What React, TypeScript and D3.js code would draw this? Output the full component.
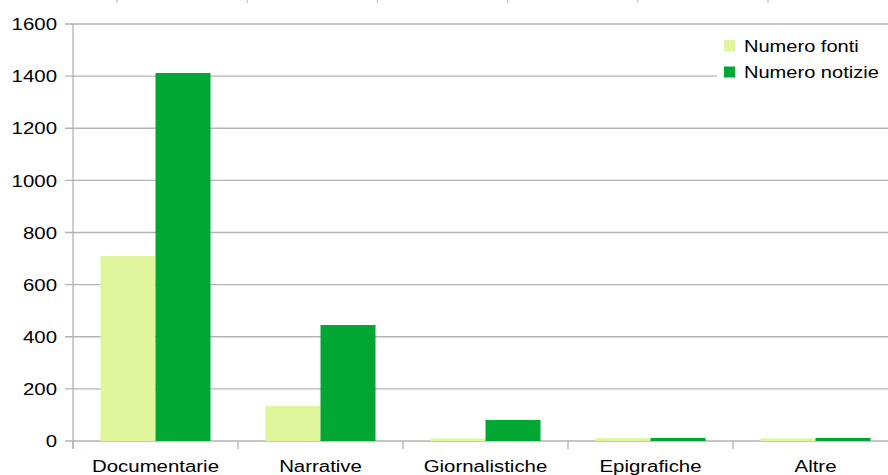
import React from "react";
import * as d3 from "d3";

const categories = ["Documentarie", "Narrative", "Giornalistiche", "Epigrafiche", "Altre"];
const seriesNames = ["Numero fonti", "Numero notizie"];
const numeroFonti = [710, 134, 10, 11, 10];
const numeroNotizie = [1412, 445, 81, 12, 12];
const yTicks = [0, 200, 400, 600, 800, 1000, 1200, 1400, 1600];
const colors = ["#dff69c", "#00a833"];

const W = 888;
const H = 475;
const FONT = "'Liberation Sans', Arial, sans-serif";
const SX = 1.18;

export default function App() {
  const left = 73;
  const x0 = d3
    .scaleBand<string>()
    .domain(categories)
    .range([left, left + 165 * categories.length])
    .paddingInner(1 / 3)
    .paddingOuter(1 / 6);
  const step = x0.step();
  const x1 = d3.scaleBand<string>().domain(seriesNames).range([0, x0.bandwidth()]);
  const y = d3.scaleLinear().domain([0, 1600]).range([441, 24]);
  const series = [numeroFonti, numeroNotizie];
  const grid = "#b3b3b3";
  const topMarks = d3.range(6).map((i) => 117 + i * 130.2);

  return (
    <svg
      width={W}
      height={H}
      style={{ position: "absolute", left: 0, top: 0, background: "#fff" }}
      fontFamily={FONT}
    >
      <rect x={0} y={0} width={W} height={H} fill="#fff" />
      {topMarks.map((mx, i) => (
        <line key={"tm" + i} x1={mx} x2={mx} y1={0} y2={3} stroke={grid} strokeWidth={1} />
      ))}
      {yTicks.map((t) => (
        <g key={"g" + t}>
          <line x1={65} x2={W} y1={y(t)} y2={y(t)} stroke={grid} strokeWidth={1.3} />
          <text
            transform={`translate(57,${y(t) + 6.2}) scale(${SX},1)`}
            textAnchor="end"
            fontSize={17.3}
            fill="#000"
          >
            {t}
          </text>
        </g>
      ))}
      <line x1={left} x2={left} y1={y(1600)} y2={449} stroke={grid} strokeWidth={1.3} />
      {d3.range(categories.length + 1).map((i) => (
        <line
          key={"ct" + i}
          x1={left + i * step}
          x2={left + i * step}
          y1={441}
          y2={449}
          stroke={grid}
          strokeWidth={1.3}
        />
      ))}
      {categories.map((c, ci) =>
        series.map((vals, si) => {
          const bx = (x0(c) as number) + (x1(seriesNames[si]) as number);
          return (
            <rect
              key={c + si}
              x={bx}
              y={y(vals[ci])}
              width={x1.bandwidth()}
              height={441 - y(vals[ci])}
              fill={colors[si]}
            />
          );
        })
      )}
      {categories.map((c) => (
        <text
          key={"l" + c}
          transform={`translate(${(x0(c) as number) + x0.bandwidth() / 2},471.5) scale(${SX},1)`}
          textAnchor="middle"
          fontSize={17.3}
          fill="#000"
        >
          {c}
        </text>
      ))}
      <rect x={717} y={31} width={W - 717} height={56} fill="#fff" />
      {seriesNames.map((s, i) => (
        <g key={"lg" + s}>
          <rect x={724} y={40 + i * 26.5} width={11} height={11} fill={colors[i]} />
          <text
            transform={`translate(744,${51.5 + i * 26.5}) scale(${SX},1)`}
            fontSize={17}
            fill="#000"
          >
            {s}
          </text>
        </g>
      ))}
    </svg>
  );
}
